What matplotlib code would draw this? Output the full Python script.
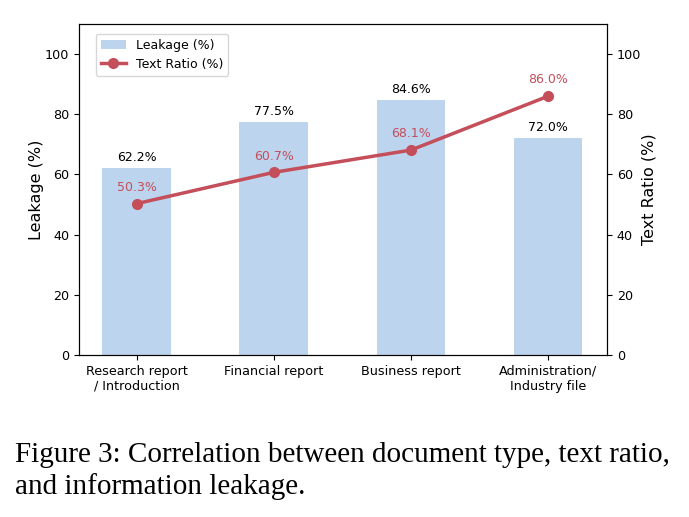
import matplotlib
matplotlib.use("Agg")
import matplotlib.pyplot as plt
import numpy as np

categories = ["Research report\n/ Introduction", "Financial report", "Business report", "Administration/\nIndustry file"]
leakage = [62.2, 77.5, 84.6, 72.0]
text_ratio = [50.3, 60.7, 68.1, 86.0]

bar_color = "#bdd4ee"
line_color = "#c44e5a"

fig = plt.figure(figsize=(6.89, 5.17), dpi=100)
ax = fig.add_axes([0.1147, 0.3133, 0.7663, 0.6403])
x = np.arange(len(categories))
bars = ax.bar(x, leakage, width=0.5, color=bar_color, label="Leakage (%)")
for xi, v in zip(x, leakage):
    ax.annotate(f"{v:.1f}%", (xi, v), xytext=(0, 3), textcoords="offset points",
                ha="center", va="bottom", fontsize=9)
ax.set_ylim(0, 110)
ax.set_xlim(-0.42, 3.43)
ax.set_ylabel("Leakage (%)", fontsize=11.5, labelpad=1)
ax.set_xticks(x)
ax.set_xticklabels(categories, fontsize=9.2)
ax.tick_params(axis="y", labelsize=9.2)

ax2 = ax.twinx()
line, = ax2.plot(x, text_ratio, color=line_color, lw=2.5, marker="o", markersize=7, label="Text Ratio (%)")
for xi, v in zip(x, text_ratio):
    ax2.annotate(f"{v:.1f}%", (xi, v), xytext=(0, 7), textcoords="offset points",
                 ha="center", va="bottom", fontsize=9, color=line_color)
ax2.set_ylim(0, 110)
ax2.set_ylabel("Text Ratio (%)", fontsize=11.5, labelpad=0.5)
ax2.tick_params(axis="y", labelsize=9.2)

ax.legend([bars, line], ["Leakage (%)", "Text Ratio (%)"], loc="upper left",
          bbox_to_anchor=(0.02, 0.99), fontsize=9)

fig.text(0.022, 0.089, "Figure 3: Correlation between document type, text ratio,\nand information leakage.",
         fontsize=21, family="Liberation Serif", ha="left", va="center", linespacing=1.25)

fig.savefig("out.png", dpi=100)
